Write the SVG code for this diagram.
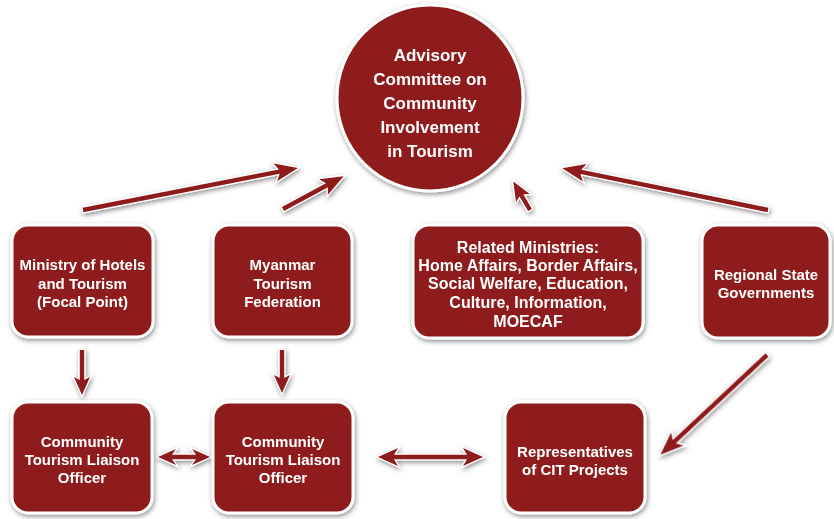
<svg xmlns="http://www.w3.org/2000/svg" width="834" height="519" viewBox="0 0 834 519">
  <defs>
    <filter id="shadow" x="-20%" y="-20%" width="140%" height="140%">
      <feDropShadow dx="1" dy="2" stdDeviation="2.5" flood-color="#000" flood-opacity="0.45"/>
    </filter>
    <style>
      .node { fill: #8f1b1f; stroke: #ffffff; stroke-width: 3; filter: url(#shadow); }
      .label { fill: #ffffff; font-family: "Liberation Sans", Arial, sans-serif; font-weight: bold; font-size: 15px; text-anchor: middle; }
      .arrow { fill: #8f1b1f; stroke: #ffffff; stroke-width: 2.5; stroke-linejoin: miter; paint-order: stroke; }
      #connectors { filter: url(#shadow); }
    </style>
  </defs>
  <rect width="834" height="519" fill="#ffffff"/>

  <!-- connectors: each arrow drawn along +x then placed with translate/rotate -->
  <g id="connectors">
    <!-- Ministry of Hotels -> Advisory Committee -->
    <g transform="translate(83,210) rotate(-11.05)">
      <path class="arrow" d="M0,-2.2 L200,-2.2 L196,-9 L219,0 L196,9 L200,2.2 L0,2.2 Z"/>
    </g>
    <!-- Myanmar Tourism Federation -> Advisory Committee -->
    <g transform="translate(283,209) rotate(-28.4)">
      <path class="arrow" d="M0,-2.2 L50,-2.2 L46,-9 L69,0 L46,9 L50,2.2 L0,2.2 Z"/>
    </g>
    <!-- Related Ministries -> Advisory Committee -->
    <g transform="translate(530,210) rotate(-120.4)">
      <path class="arrow" d="M0,-2.2 L17,-2.2 L14,-8 L33,0 L14,8 L17,2.2 L0,2.2 Z"/>
    </g>
    <!-- Regional State Governments -> Advisory Committee -->
    <g transform="translate(768,210) rotate(-168.5)">
      <path class="arrow" d="M0,-2.2 L191,-2.2 L187,-9 L210,0 L187,9 L191,2.2 L0,2.2 Z"/>
    </g>
    <!-- Ministry of Hotels -> Liaison Officer -->
    <g transform="translate(82,350) rotate(90)">
      <path class="arrow" d="M0,-2.2 L30,-2.2 L27,-8 L45,0 L27,8 L30,2.2 L0,2.2 Z"/>
    </g>
    <!-- Myanmar Tourism Federation -> Liaison Officer -->
    <g transform="translate(282,350) rotate(90)">
      <path class="arrow" d="M0,-2.2 L28,-2.2 L25,-8 L43,0 L25,8 L28,2.2 L0,2.2 Z"/>
    </g>
    <!-- Liaison Officer <-> Liaison Officer -->
    <g transform="translate(158,457)">
      <path class="arrow" d="M0,0 L18,-8 L14,-2.2 L38,-2.2 L34,-8 L52,0 L34,8 L38,2.2 L14,2.2 L18,8 Z"/>
    </g>
    <!-- Liaison Officer <-> Representatives of CIT Projects -->
    <g transform="translate(378,457)">
      <path class="arrow" d="M0,0 L20,-9 L16,-2.2 L89,-2.2 L85,-9 L105,0 L85,9 L89,2.2 L16,2.2 L20,9 Z"/>
    </g>
    <!-- Regional State Governments -> Representatives of CIT Projects -->
    <g transform="translate(767,355) rotate(136.9)">
      <path class="arrow" d="M0,-2.2 L127,-2.2 L123,-9 L146,0 L123,9 L127,2.2 L0,2.2 Z"/>
    </g>
  </g>

  <g id="advisory-committee">
    <circle class="node" cx="430" cy="98" r="93" stroke-width="4"/>
    <text class="label" style="font-size:17px"><tspan x="430" y="61">Advisory</tspan><tspan x="430" y="85">Committee on</tspan><tspan x="430" y="109">Community</tspan><tspan x="430" y="133">Involvement</tspan><tspan x="430" y="157">in Tourism</tspan></text>
  </g>

  <g id="ministry-hotels">
    <rect class="node" x="12" y="225" width="141" height="112" rx="16"/>
    <text class="label"><tspan x="82.5" y="270">Ministry of Hotels</tspan><tspan x="82.5" y="289">and Tourism</tspan><tspan x="82.5" y="307">(Focal Point)</tspan></text>
  </g>

  <g id="myanmar-tourism-federation">
    <rect class="node" x="213" y="225" width="139" height="112" rx="16"/>
    <text class="label"><tspan x="282.5" y="270">Myanmar</tspan><tspan x="282.5" y="289">Tourism</tspan><tspan x="282.5" y="307">Federation</tspan></text>
  </g>

  <g id="related-ministries">
    <rect class="node" x="413" y="225" width="230" height="113" rx="16"/>
    <text class="label" style="font-size:16px"><tspan x="528" y="253">Related Ministries:</tspan><tspan x="528" y="271">Home Affairs, Border Affairs,</tspan><tspan x="528" y="289">Social Welfare, Education,</tspan><tspan x="528" y="308">Culture, Information,</tspan><tspan x="528" y="327">MOECAF</tspan></text>
  </g>

  <g id="regional-state-governments">
    <rect class="node" x="702" y="225" width="128" height="113" rx="16"/>
    <text class="label"><tspan x="766" y="280">Regional State</tspan><tspan x="766" y="298">Governments</tspan></text>
  </g>

  <g id="liaison-officer-1">
    <rect class="node" x="12" y="402" width="140" height="111" rx="16"/>
    <text class="label"><tspan x="82" y="447">Community</tspan><tspan x="82" y="465">Tourism Liaison</tspan><tspan x="82" y="483">Officer</tspan></text>
  </g>

  <g id="liaison-officer-2">
    <rect class="node" x="213" y="402" width="140" height="111" rx="16"/>
    <text class="label"><tspan x="283" y="447">Community</tspan><tspan x="283" y="465">Tourism Liaison</tspan><tspan x="283" y="483">Officer</tspan></text>
  </g>

  <g id="cit-representatives">
    <rect class="node" x="505" y="402" width="140" height="111" rx="16"/>
    <text class="label"><tspan x="575" y="457">Representatives</tspan><tspan x="575" y="475">of CIT Projects</tspan></text>
  </g>
</svg>
